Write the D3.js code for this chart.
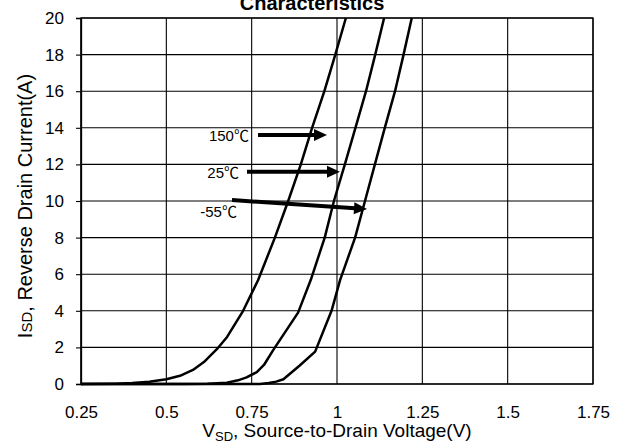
<!DOCTYPE html>
<html>
<head>
<meta charset="utf-8">
<script src="https://cdn.jsdelivr.net/npm/d3@7"></script>
<style>
  html, body { margin: 0; padding: 0; background: #fff; }
  svg { display: block; }
  text { font-family: "Liberation Sans", Arial, "Noto Sans CJK SC", sans-serif; fill: #000; }
</style>
</head>
<body>
<svg id="chart" width="621" height="447"></svg>
<script>
// Reverse drain current vs. source-to-drain voltage for three junction temperatures
const voltageTicks = [0.25, 0.5, 0.75, 1, 1.25, 1.5, 1.75];
const voltageTickLabels = ["0.25", "0.5", "0.75", "1", "1.25", "1.5", "1.75"];
const currentTicks = [0, 2, 4, 6, 8, 10, 12, 14, 16, 18, 20];

// [V_SD (V), I_SD (A)]
const curve150C = [
  [0.25, 0], [0.35, 0.02], [0.40, 0.05], [0.45, 0.12], [0.50, 0.26], [0.54, 0.45],
  [0.578, 0.77], [0.61, 1.2], [0.648, 1.9], [0.678, 2.57], [0.725, 4.0],
  [0.769, 5.68], [0.818, 8], [0.857, 10], [0.894, 12], [0.927, 14],
  [0.963, 16], [0.995, 18], [1.026, 20]
];
const curve25C = [
  [0.25, 0], [0.55, 0], [0.62, 0.02], [0.677, 0.07], [0.71, 0.2], [0.735, 0.36],
  [0.765, 0.65], [0.786, 1.04], [0.813, 1.85], [0.886, 3.9], [0.923, 5.68],
  [0.964, 8], [0.991, 10], [1.023, 12], [1.054, 14], [1.085, 16],
  [1.112, 18], [1.138, 20]
];
const curveMinus55C = [
  [0.25, 0], [0.774, 0], [0.80, 0.05], [0.822, 0.13], [0.843, 0.26], [0.89, 1.0],
  [0.936, 1.77], [0.984, 4.0], [1.009, 5.68], [1.053, 8], [1.082, 10],
  [1.111, 12], [1.140, 14], [1.170, 16], [1.195, 18], [1.219, 20]
];

const seriesTemps = ["150", "25", "-55"];
const seriesData = [curve150C, curve25C, curveMinus55C];

// Annotation arrows: label anchor and arrow from/to, in data units
const labelAnchors = [[0.742, 13.28], [0.713, 11.26], [0.707, 9.13]];
const arrowFrom = [[0.7686, 13.61], [0.7363, 11.60], [0.6924, 10.05]];
const arrowTo = [[0.9707, 13.61], [1.0088, 11.60], [1.0879, 9.56]];

const svg = d3.select("#chart");
const plotLeft = 81, plotRight = 593, plotTop = 18, plotBottom = 384;

const x = d3.scaleLinear().domain([0.25, 1.75]).range([plotLeft, plotRight]);
const y = d3.scaleLinear().domain([0, 20]).range([plotBottom, plotTop]);

svg.append("rect").attr("width", 621).attr("height", 447).attr("fill", "#fff");

// grid
const grid = svg.append("g").attr("stroke", "#000").attr("stroke-width", 1.1);
grid.selectAll("line.v").data(voltageTicks).join("line")
  .attr("class", "v")
  .attr("x1", d => x(d)).attr("x2", d => x(d))
  .attr("y1", plotTop).attr("y2", plotBottom);
grid.selectAll("line.h").data(currentTicks).join("line")
  .attr("class", "h")
  .attr("x1", plotLeft).attr("x2", plotRight)
  .attr("y1", d => y(d)).attr("y2", d => y(d));

// y axis with outward ticks
const yAxis = d3.axisLeft(y).tickValues(currentTicks).tickSize(5).tickPadding(12);
const gy = svg.append("g").attr("transform", `translate(${plotLeft},0)`).call(yAxis);
gy.select(".domain").attr("stroke", "#000").attr("stroke-width", 1.3);
gy.selectAll(".tick line").attr("stroke", "#000").attr("stroke-width", 1.1);
gy.selectAll(".tick text").attr("font-size", 17)
  .attr("font-family", "'Liberation Sans', Arial, sans-serif").attr("fill", "#000");

// x axis labels only
const xAxis = d3.axisBottom(x).tickValues(voltageTicks)
  .tickFormat((d, i) => voltageTickLabels[i]).tickSize(0).tickPadding(22);
const gx = svg.append("g").attr("transform", `translate(0,${plotBottom})`).call(xAxis);
gx.select(".domain").remove();
gx.selectAll(".tick text").attr("font-size", 17)
  .attr("font-family", "'Liberation Sans', Arial, sans-serif").attr("fill", "#000");

// plot frame
svg.append("rect")
  .attr("x", plotLeft).attr("y", plotTop)
  .attr("width", plotRight - plotLeft).attr("height", plotBottom - plotTop)
  .attr("fill", "none").attr("stroke", "#000").attr("stroke-width", 1.3);

// curves
const line = d3.line().x(d => x(d[0])).y(d => y(d[1])).curve(d3.curveLinear);
svg.append("g").selectAll("path").data(seriesData).join("path")
  .attr("d", line)
  .attr("fill", "none").attr("stroke", "#000").attr("stroke-width", 2.5)
  .attr("stroke-linejoin", "round");

// annotation labels and arrows
const ann = svg.append("g");
seriesTemps.forEach((t, i) => {
  const lbl = ann.append("text")
    .attr("x", x(labelAnchors[i][0])).attr("y", y(labelAnchors[i][1]))
    .attr("text-anchor", "end").attr("font-size", 15);
  lbl.append("tspan").text(t);
  lbl.append("tspan").attr("font-family", "'Noto Sans CJK SC', sans-serif").text("℃");

  const x0 = x(arrowFrom[i][0]), y0 = y(arrowFrom[i][1]);
  const x1 = x(arrowTo[i][0]), y1 = y(arrowTo[i][1]);
  const ang = Math.atan2(y1 - y0, x1 - x0);
  const headLen = 13, headHalf = 6;
  const bx = x1 - headLen * Math.cos(ang), by = y1 - headLen * Math.sin(ang);
  ann.append("line")
    .attr("x1", x0).attr("y1", y0)
    .attr("x2", bx + Math.cos(ang)).attr("y2", by + Math.sin(ang))
    .attr("stroke", "#000").attr("stroke-width", 4);
  const nx = -Math.sin(ang), ny = Math.cos(ang);
  ann.append("path")
    .attr("d", `M${x1},${y1}L${bx + nx * headHalf},${by + ny * headHalf}L${bx - nx * headHalf},${by - ny * headHalf}Z`)
    .attr("fill", "#000");
});

// titles
svg.append("text")
  .attr("x", 312).attr("y", 9.5).attr("text-anchor", "middle")
  .attr("font-size", 20).attr("font-weight", "bold")
  .text("Characteristics");

const xt = svg.append("text")
  .attr("x", 337).attr("y", 437).attr("text-anchor", "middle").attr("font-size", 19);
xt.append("tspan").text("V");
xt.append("tspan").attr("font-size", 13).attr("dy", 4).text("SD");
xt.append("tspan").attr("dy", -4).text(", Source-to-Drain Voltage(V)");

const yt = svg.append("text")
  .attr("transform", "translate(32,206) rotate(-90)")
  .attr("text-anchor", "middle").attr("font-size", 20);
yt.append("tspan").text("I");
yt.append("tspan").attr("font-size", 15).text("SD");
yt.append("tspan").text(", Reverse Drain Current(A)");
</script>
</body>
</html>
